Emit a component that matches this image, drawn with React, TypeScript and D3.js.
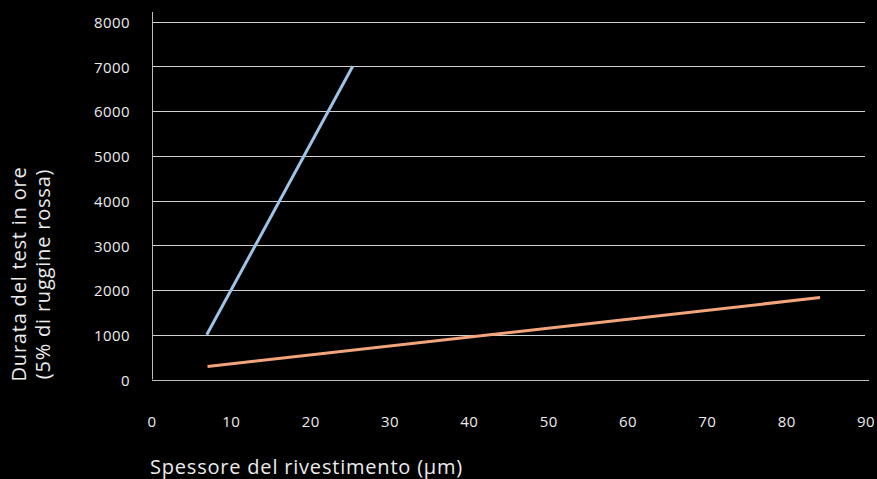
import React from "react";
import * as d3 from "d3";

const W = 877;
const H = 479;

const yTicks = [0, 1000, 2000, 3000, 4000, 5000, 6000, 7000, 8000];
const xTicks = [0, 10, 20, 30, 40, 50, 60, 70, 80, 90];

// Thickness (µm) vs test duration (hours) for the two coatings
const blueX = [6.9, 25.3];
const blueY = [1000, 7000];
const orangeX = [7.0, 84.2];
const orangeY = [290, 1830];

const font = "'Open Sans', 'Noto Sans', sans-serif";

export default function App() {
  const x = d3.scaleLinear().domain([0, 90]).range([152, 866]);
  const y = d3.scaleLinear().domain([0, 8000]).range([379.5, 21.5]);

  const line = d3
    .line<[number, number]>()
    .x((d) => x(d[0]))
    .y((d) => y(d[1]));

  const blue = blueX.map((v, i) => [v, blueY[i]] as [number, number]);
  const orange = orangeX.map((v, i) => [v, orangeY[i]] as [number, number]);

  return (
    <svg
      width={W}
      height={H}
      style={{ position: "fixed", left: 0, top: 0, background: "#000" }}
    >
      <rect x={0} y={0} width={W} height={H} fill="#000" />
      {yTicks.map((t) =>
        t === 0 ? null : (
          <line
            key={t}
            x1={x(0)}
            x2={865}
            y1={Math.round(y(t)) + 0.5}
            y2={Math.round(y(t)) + 0.5}
            stroke="#d0d0d0"
            strokeWidth={1}
          />
        )
      )}
      {/* axes */}
      <line x1={152.5} x2={152.5} y1={12} y2={y(0)} stroke="#bdbdbd" strokeWidth={1} />
      <line x1={152} x2={869} y1={380.5} y2={380.5} stroke="#bdbdbd" strokeWidth={1} />
      {yTicks.map((t) => (
        <text
          key={t}
          x={130}
          y={y(t) + 1}
          dy="0.35em"
          textAnchor="end"
          fill="#ececec"
          fontSize={15}
          letterSpacing={0.4}
          fontFamily={font}
        >
          {t}
        </text>
      ))}
      {xTicks.map((t) => (
        <text
          key={t}
          x={x(t)}
          y={427}
          textAnchor="middle"
          fill="#ececec"
          fontSize={15}
          letterSpacing={0.4}
          fontFamily={font}
        >
          {t}
        </text>
      ))}
      <path d={line(blue) || ""} fill="none" stroke="#9dc3e6" strokeWidth={3} />
      <path d={line(orange) || ""} fill="none" stroke="#f4a47a" strokeWidth={3} />
      <text
        x={150}
        y={474}
        fill="#ececec"
        fontSize={20}
        letterSpacing={0.8}
        fontFamily={font}
      >
        Spessore del rivestimento (µm)
      </text>
      <g transform="translate(0,274) rotate(-90)">
        <text x={0} y={26} textAnchor="middle" fill="#ececec" fontSize={20} letterSpacing={0.8} fontFamily={font}>
          Durata del test in ore
        </text>
        <text x={0} y={50} textAnchor="middle" fill="#ececec" fontSize={20} letterSpacing={0.8} fontFamily={font}>
          (5% di ruggine rossa)
        </text>
      </g>
    </svg>
  );
}
